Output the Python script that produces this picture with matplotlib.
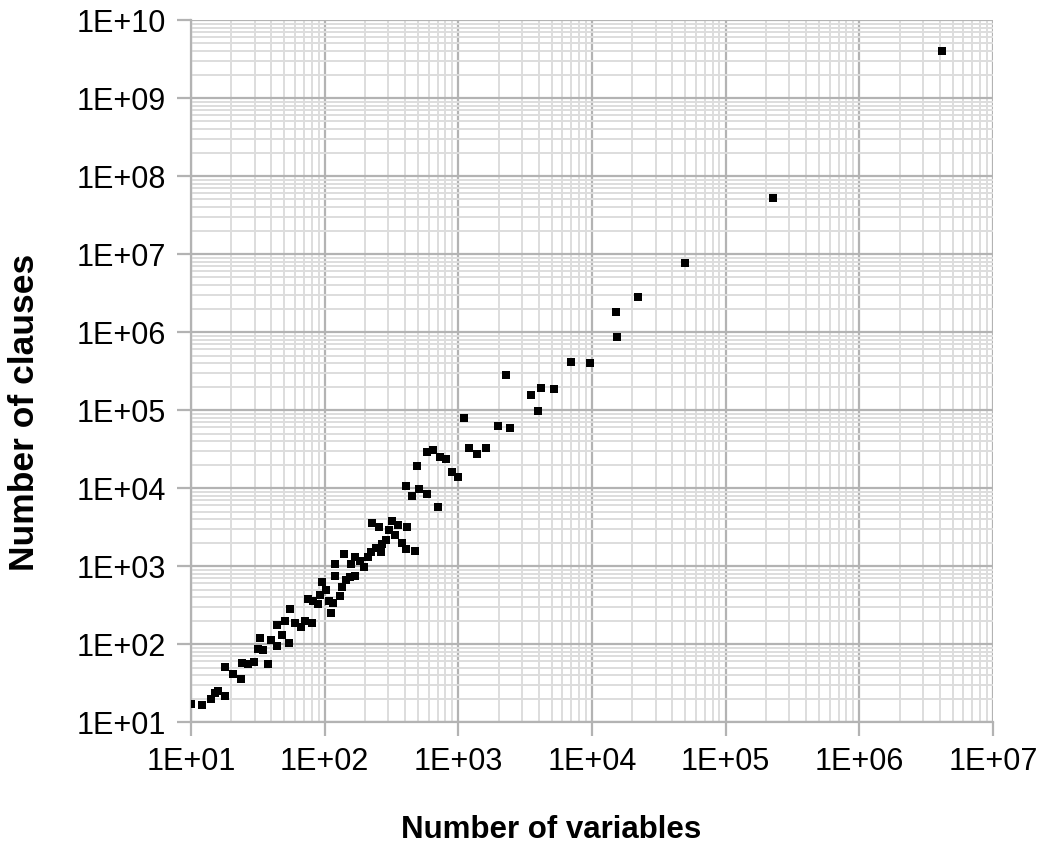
import math
import matplotlib
matplotlib.use("Agg")
import matplotlib.pyplot as plt
from matplotlib.ticker import LogLocator, FuncFormatter, NullFormatter

plt.rcParams['font.family'] = ['Liberation Sans', 'DejaVu Sans']

# values (log-log scatter)
n_vars = [10, 12, 14, 15, 16, 18, 18, 20.7, 23.8, 24, 26.8, 29.7, 37.7, 31.5, 34.7,
          32.8, 39.9, 44, 53.8, 48, 44, 50.7, 54.7, 60, 66.1, 71.2, 80, 75.4, 82.2,
          88.7, 92.2, 95.9, 101.7, 107.6, 116, 111.4, 130, 134.7, 143.6, 119.4, 120,
          154.6, 168.6, 158, 169.4, 140.2, 183.7, 196, 209.8, 222, 240.5, 263.7, 266.8,
          287.3, 302.8, 317, 353, 337, 380, 403.6, 476, 227, 253.5, 415, 403.6, 450,
          510, 585, 703, 493, 585, 651, 735, 815, 900, 993, 1107, 1200, 1371, 1607,
          1987, 2444, 2280, 3490, 3918, 4130, 5190, 6950, 9640, 15520, 15100, 22030,
          49550, 225400, 4.14e6]
n_clauses = [17, 16.5, 19.5, 23.8, 25.2, 21.5, 50.7, 40.9, 35.3, 57.5, 55.4, 59.3, 54.9,
             85.5, 83.8, 119, 112, 94.3, 102, 131, 174, 199, 279, 184, 167, 197, 184, 374,
             356, 326, 425, 624, 492, 356, 332, 248, 412, 533, 662, 751, 1062, 729, 745,
             1062, 1294, 1425, 1170, 962, 1316, 1525, 1687, 1525, 1914, 2154, 2895, 3808,
             3356, 2476, 1954, 1637, 1571, 3590, 3190, 3190, 10620, 7890, 9620, 8380,
             5755, 19320, 28950, 30700, 24770, 23400, 16140, 14030, 78300, 32300, 27700,
             32300, 62370, 59300, 283600, 154300, 96200, 191400, 187500, 412500, 403900,
             870000, 1.80e6, 2.81e6, 7.67e6, 5.22e7, 4.0e9]

fig = plt.figure(figsize=(10.43, 8.44), dpi=100)
ax = fig.add_axes([0.1831, 0.1445, 0.7689, 0.8318])

ax.scatter(n_vars, n_clauses, marker='s', s=36, color='black', linewidths=0, zorder=3)

ax.set_xscale('log')
ax.set_yscale('log')
ax.set_xlim(10, 1e7)
ax.set_ylim(10, 1e10)

sci = FuncFormatter(lambda v, p: '1E+%02d' % round(math.log10(v)))
ax.xaxis.set_major_locator(LogLocator(base=10, numticks=20))
ax.yaxis.set_major_locator(LogLocator(base=10, numticks=20))
ax.xaxis.set_minor_locator(LogLocator(base=10, subs=range(2, 10), numticks=20))
ax.yaxis.set_minor_locator(LogLocator(base=10, subs=range(2, 10), numticks=20))
ax.xaxis.set_major_formatter(sci)
ax.yaxis.set_major_formatter(sci)
ax.xaxis.set_minor_formatter(NullFormatter())
ax.yaxis.set_minor_formatter(NullFormatter())

ax.grid(which='major', color='#b3b3b3', linewidth=1.6, zorder=1)
ax.grid(which='minor', color='#dddddd', linewidth=1.4, zorder=0)
ax.set_axisbelow(True)

for s in ['top', 'right']:
    ax.spines[s].set_visible(False)
for s in ['left', 'bottom']:
    ax.spines[s].set_color('#b3b3b3')
    ax.spines[s].set_linewidth(1.6)

ax.tick_params(which='major', length=10, width=1.6, color='#b3b3b3',
               labelsize=22, pad=8)
ax.tick_params(which='minor', length=0)

ax.set_xlabel('Number of variables', fontsize=22.5, fontweight='bold', va='baseline')
ax.set_ylabel('Number of clauses', fontsize=25.5, fontweight='bold', va='center')
ax.xaxis.set_label_coords(0.449, -0.1645)
ax.yaxis.set_label_coords(-0.2075, 0.441)

fig.savefig('out.png', dpi=100)
